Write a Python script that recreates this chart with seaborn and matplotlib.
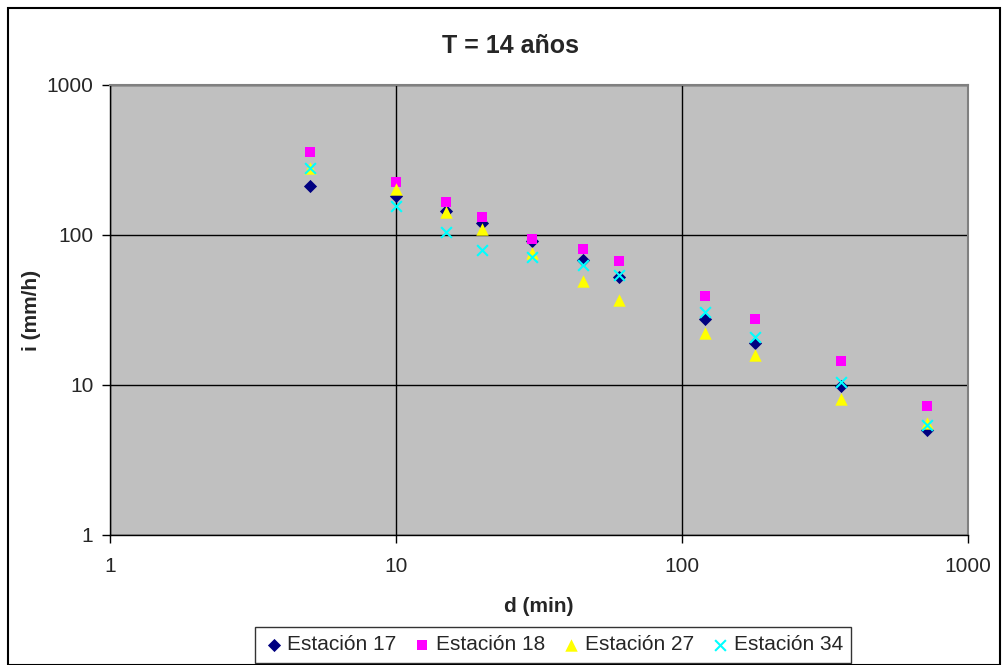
import matplotlib
matplotlib.use("Agg")
import matplotlib.pyplot as plt
import seaborn as sns
import pandas as pd
import numpy as np
from matplotlib.ticker import FixedLocator, NullLocator, FixedFormatter

durations = [5, 10, 15, 20, 30, 45, 60, 120, 180, 360, 720]
est17 = [212, 183, 145, 121, 91.6, 68, 52.7, 27.4, 19.1, 9.85, 5.01]
est18 = [356, 227, 165, 132, 93.6, 80.3, 67.1, 39.4, 27.5, 14.4, 7.24]
est27 = [281, 202, 143, 109, 75.5, 49.6, 36.9, 22.1, 15.8, 8.07, 5.56]
est34 = [281, 157, 105, 79.4, 71.7, 63, 53.8, 30.8, 20.8, 10.5, 5.41]
series_names = ["Estación 17", "Estación 18", "Estación 27", "Estación 34"]
tick_vals = [1, 10, 100, 1000]
tick_labels = ["1", "10", "100", "1000"]

df = pd.concat([
    pd.DataFrame({"d": durations, "i": v, "serie": n})
    for v, n in zip([est17, est18, est27, est34], series_names)
])

sns.set_style("white")
plt.rcParams["font.family"] = ["Liberation Sans", "DejaVu Sans"]

fig = plt.figure(figsize=(10.03, 6.65), dpi=100)
ax = fig.add_axes([110/1003, 130/665, 858/1003, 450/665])
ax.set_facecolor("#C0C0C0")

palette = {"Estación 17": "#000080", "Estación 18": "#FF00FF",
           "Estación 27": "#FFFF00", "Estación 34": "#00FFFF"}
markers = {"Estación 17": "D", "Estación 18": "s", "Estación 27": "^", "Estación 34": "x"}
sizes_map = {"Estación 17": 45, "Estación 18": 55, "Estación 27": 80, "Estación 34": 60}

for n in series_names:
    sub = df[df["serie"] == n]
    kw = dict(linewidth=0) if markers[n] != "x" else dict(linewidth=1.5)
    sns.scatterplot(data=sub, x="d", y="i", color=palette[n], marker=markers[n],
                    s=sizes_map[n], ax=ax, label=n, zorder=3, **kw)

ax.set_xscale("log")
ax.set_yscale("log")
ax.set_xlim(1, 1000)
ax.set_ylim(1, 1000)
ax.xaxis.set_major_locator(FixedLocator(tick_vals))
ax.yaxis.set_major_locator(FixedLocator(tick_vals))
ax.xaxis.set_major_formatter(FixedFormatter(tick_labels))
ax.yaxis.set_major_formatter(FixedFormatter(tick_labels))
ax.xaxis.set_minor_locator(NullLocator())
ax.yaxis.set_minor_locator(NullLocator())
ax.grid(True, which="major", color="black", linewidth=1)
ax.set_axisbelow(True)
ax.tick_params(axis="both", which="major", length=6, width=1, color="black",
               labelsize=15, direction="out", left=True, bottom=True)
ax.tick_params(axis="y", pad=6)
ax.tick_params(axis="x", pad=10)
for side in ["left", "bottom"]:
    ax.spines[side].set_color("black")
    ax.spines[side].set_linewidth(1)
for side in ["top", "right"]:
    ax.spines[side].set_color("#808080")
    ax.spines[side].set_linewidth(1.5)

ax.set_xlabel("d (min)", fontsize=15, fontweight="bold")
ax.set_ylabel("i (mm/h)", fontsize=15, fontweight="bold")
ax.xaxis.set_label_coords(0.5, (535 - 597) / 450)
ax.yaxis.set_label_coords((41 - 110) / 858, 0.5)
fig.text(511/1003, 1 - 46/665, "T = 14 años", fontsize=18, fontweight="bold",
         ha="center", va="center")

leg = ax.legend(loc="center", bbox_to_anchor=(553/1003, 1 - 645/665),
                bbox_transform=fig.transFigure, ncol=4, frameon=True,
                fontsize=15, handletextpad=0.15, columnspacing=0.75,
                borderpad=0.4, fancybox=False, handlelength=1.0)
leg.get_frame().set_edgecolor("black")
leg.get_frame().set_linewidth(1)

border = plt.Rectangle((8/1003, 0), (1000-8)/1003, 1 - 8/665, transform=fig.transFigure,
                       fill=False, edgecolor="black", linewidth=1.5)
fig.patches.append(border)

fig.savefig("out.png", dpi=100)
